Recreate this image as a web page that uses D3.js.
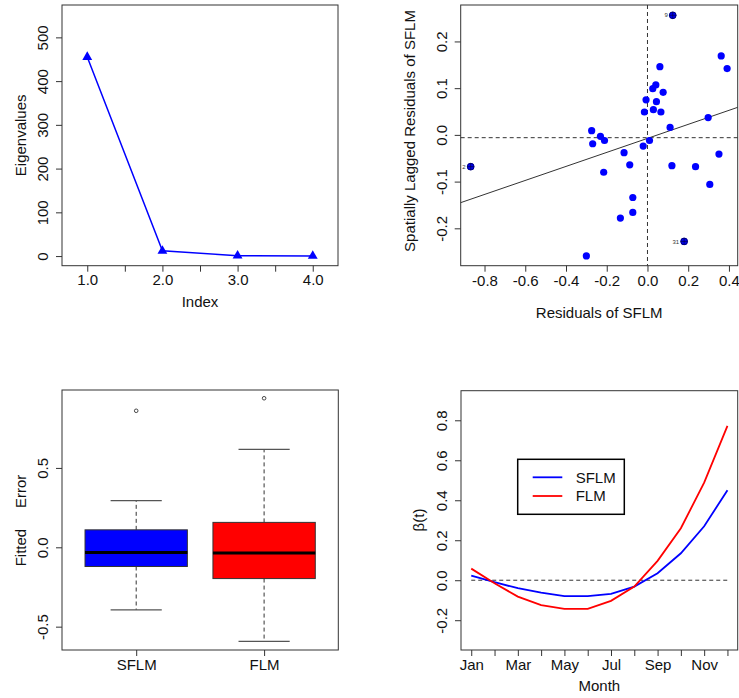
<!DOCTYPE html>
<html>
<head>
<meta charset="utf-8">
<script src="https://cdn.jsdelivr.net/npm/d3@7"></script>
<style>
body { margin: 0; background: #fff; }
svg { font-family: "Liberation Sans", Arial, sans-serif; }
</style>
</head>
<body>
<svg id="chart" width="739" height="698"></svg>
<script>
// top left: eigenvalues
const eigIndex = [1, 2, 3, 4];
const eigValues = [455, 12, 1, 0.3];
const eigXTicks = [1, 1.5, 2, 2.5, 3, 3.5, 4];
const eigYTicks = [0, 100, 200, 300, 400, 500];

// top right: moran scatter of residuals
const resX = [0.124, 0.362, 0.391, 0.061, 0.041, 0.026, 0.077, -0.007, 0.044, 0.029, 0.066,
	-0.015, 0.298, 0.111, -0.274, -0.231, -0.269, -0.211, 0.010, -0.021, -0.115, 0.351,
	-0.087, 0.120, 0.236, -0.868, -0.215, 0.306, -0.072, -0.072, -0.133, 0.180, -0.300];
const lagY = [0.256, 0.169, 0.142, 0.146, 0.107, 0.099, 0.091, 0.075, 0.071, 0.054, 0.049,
	0.049, 0.037, 0.016, 0.009, -0.003, -0.019, -0.012, -0.012, -0.024, -0.038, -0.041,
	-0.064, -0.066, -0.068, -0.068, -0.080, -0.106, -0.134, -0.166, -0.178, -0.228, -0.259];
const influenceIdx = [0, 25, 31];
const influenceLabels = ["9", "2", "31"];
const fitIntercept = -0.0075;
const fitSlope = 0.15;
const lagMean = -0.006;
const resXTicks = [-0.8, -0.6, -0.4, -0.2, 0.0, 0.2, 0.4];
const lagYTicks = [-0.2, -0.1, 0.0, 0.1, 0.2];

// bottom left: boxplots of fitted error
const boxGroups = ["SFLM", "FLM"];
const boxLower = [-0.394, -0.593];
const boxQ1 = [-0.121, -0.197];
const boxMedian = [-0.032, -0.036];
const boxQ3 = [0.110, 0.157];
const boxUpper = [0.294, 0.617];
const boxOutliers = [[0.860], [0.939]];
const boxColors = ["#0000ff", "#ff0000"];
const errYTicks = [-0.5, 0.0, 0.5];

// bottom right: beta(t)
const months = ["Jan", "Feb", "Mar", "Apr", "May", "Jun", "Jul", "Aug", "Sep", "Oct", "Nov", "Dec"];
const betaSFLM = [0.023, -0.010, -0.040, -0.062, -0.080, -0.080, -0.068, -0.032, 0.035, 0.135, 0.270, 0.450];
const betaFLM = [0.058, -0.015, -0.082, -0.125, -0.143, -0.143, -0.103, -0.032, 0.097, 0.260, 0.488, 0.772];
const betaYTicks = [-0.2, 0.0, 0.2, 0.4, 0.6, 0.8];

const svg = d3.select("#chart");
const FS = 15;

// R prints a plain hyphen for negatives
const fmt1 = d => d.toFixed(1);

// R-style axes drawn with d3 axes, tick labels parallel to the axis
function bottomAxis(g, x, y0, ticks, fmt, labelOffset) {
	const ax = g.append("g").attr("transform", `translate(0,${y0})`)
		.call(d3.axisBottom(x).tickValues(ticks).tickFormat(fmt).tickSize(6).tickSizeOuter(0));
	ax.select(".domain").remove();
	ax.selectAll(".tick line").attr("stroke", "#333");
	ax.selectAll(".tick text").attr("y", labelOffset).attr("dy", "0.35em")
		.attr("font-size", FS).attr("fill", "#111").attr("font-family", null);
	return ax;
}

function leftAxis(g, y, x0, ticks, fmt, labelOffset) {
	const ax = g.append("g").attr("transform", `translate(${x0},0)`)
		.call(d3.axisLeft(y).tickValues(ticks).tickFormat(fmt).tickSize(6).tickSizeOuter(0));
	ax.select(".domain").remove();
	ax.selectAll(".tick line").attr("stroke", "#333");
	ax.selectAll(".tick text").attr("transform", "rotate(-90)")
		.attr("x", 0).attr("y", -labelOffset).attr("dy", "0.35em")
		.attr("text-anchor", "middle")
		.attr("font-size", FS).attr("fill", "#111").attr("font-family", null);
	return ax;
}

function frame(g, l, t, r, b) {
	g.append("rect").attr("x", l).attr("y", t).attr("width", r - l).attr("height", b - t)
		.attr("fill", "none").attr("stroke", "#333").attr("stroke-width", 1);
}

function xLabel(g, txt, cx, cy) {
	g.append("text").attr("x", cx).attr("y", cy).attr("dy", "0.35em")
		.attr("text-anchor", "middle").attr("font-size", FS).attr("fill", "#111").text(txt);
}

function yLabel(g, txt, cx, cy) {
	g.append("text").attr("transform", `translate(${cx},${cy}) rotate(-90)`)
		.attr("dy", "0.35em").attr("text-anchor", "middle")
		.style("white-space", "pre")
		.attr("font-size", FS).attr("fill", "#111").text(txt);
}

// ---- panel 1: eigenvalues
{
	const L = 62, R = 338, T = 5, B = 265.7;
	const g = svg.append("g");
	const x = d3.scaleLinear().domain([0.664, 4.336]).range([L, R]);
	const y = d3.scaleLinear().domain([-22, 574]).range([B, T]);

	const line = d3.line().x((d, i) => x(eigIndex[i])).y(d => y(d));
	g.append("path").datum(eigValues).attr("d", line)
		.attr("fill", "none").attr("stroke", "#0000ff").attr("stroke-width", 1.5);

	g.selectAll(".tri").data(eigValues).enter().append("path")
		.attr("transform", (d, i) => `translate(${x(eigIndex[i])},${y(d)})`)
		.attr("d", d3.symbol(d3.symbolTriangle, 42))
		.attr("fill", "#0000ff");

	frame(g, L, T, R, B);
	bottomAxis(g, x, B, eigXTicks, d => (d % 1 === 0 ? d.toFixed(1) : ""), 14.5);
	leftAxis(g, y, L, eigYTicks, d3.format("d"), 19);
	xLabel(g, "Index", (L + R) / 2, 301.7);
	yLabel(g, "Eigenvalues", 20.7, (T + B) / 2);
}

// ---- panel 2: moran scatter
{
	const L = 460.7, R = 737.7, T = 5, B = 265.7;
	const g = svg.append("g");
	const x = d3.scaleLinear().domain([-0.917, 0.443]).range([L, R]);
	const y = d3.scaleLinear().domain([-0.28, 0.278]).range([B, T]);

	const xd = x.domain();
	g.append("line")
		.attr("x1", x(xd[0])).attr("y1", y(fitIntercept + fitSlope * xd[0]))
		.attr("x2", x(xd[1])).attr("y2", y(fitIntercept + fitSlope * xd[1]))
		.attr("stroke", "#333").attr("stroke-width", 1);
	g.append("line").attr("x1", L).attr("x2", R).attr("y1", y(lagMean)).attr("y2", y(lagMean))
		.attr("stroke", "#333").attr("stroke-dasharray", "4,3");
	g.append("line").attr("x1", x(0)).attr("x2", x(0)).attr("y1", T).attr("y2", B)
		.attr("stroke", "#333").attr("stroke-dasharray", "4,3");

	g.selectAll(".pt").data(resX).enter().append("circle")
		.attr("cx", d => x(d)).attr("cy", (d, i) => y(lagY[i]))
		.attr("r", 3.6).attr("fill", "#0000ff");

	influenceIdx.forEach((k, j) => {
		const px = x(resX[k]), py = y(lagY[k]);
		g.append("circle").attr("cx", px).attr("cy", py).attr("r", 3.4)
			.attr("fill", "#0000ee").attr("stroke", "#000033").attr("stroke-width", 0.6);
		g.append("path").attr("d", `M${px - 3.4},${py}H${px + 3.4}M${px},${py - 3.4}V${py + 3.4}`)
			.attr("stroke", "#000033").attr("stroke-width", 0.6);
		g.append("text").attr("x", px - 5).attr("y", py).attr("dy", "0.35em")
			.attr("text-anchor", "end").attr("font-size", 6).attr("fill", "#333")
			.text(influenceLabels[j]);
	});

	frame(g, L, T, R, B);
	bottomAxis(g, x, B, resXTicks, fmt1, 15);
	leftAxis(g, y, L, lagYTicks, fmt1, 19);
	xLabel(g, "Residuals of SFLM", (L + R) / 2, 312.7);
	yLabel(g, "Spatially Lagged Residuals of SFLM", 410, 131);
}

// ---- panel 3: boxplots
{
	const L = 62, R = 338.3, T = 390, B = 650;
	const g = svg.append("g");
	const x = d3.scaleLinear().domain([0.42, 2.58]).range([L, R]);
	const y = d3.scaleLinear().domain([-0.647, 0.991]).range([B, T]);
	const half = x(1.4) - x(1);

	boxGroups.forEach((name, i) => {
		const cx = x(i + 1);
		g.append("line").attr("x1", cx).attr("x2", cx).attr("y1", y(boxQ3[i])).attr("y2", y(boxUpper[i]))
			.attr("stroke", "#333").attr("stroke-dasharray", "4,3");
		g.append("line").attr("x1", cx).attr("x2", cx).attr("y1", y(boxQ1[i])).attr("y2", y(boxLower[i]))
			.attr("stroke", "#333").attr("stroke-dasharray", "4,3");
		[boxUpper[i], boxLower[i]].forEach(v => {
			g.append("line").attr("x1", cx - half / 2).attr("x2", cx + half / 2)
				.attr("y1", y(v)).attr("y2", y(v)).attr("stroke", "#555").attr("stroke-width", 1.2);
		});
		g.append("rect").attr("x", cx - half).attr("width", 2 * half)
			.attr("y", y(boxQ3[i])).attr("height", y(boxQ1[i]) - y(boxQ3[i]))
			.attr("fill", boxColors[i]).attr("stroke", "#333").attr("stroke-width", 1);
		g.append("line").attr("x1", cx - half).attr("x2", cx + half)
			.attr("y1", y(boxMedian[i])).attr("y2", y(boxMedian[i]))
			.attr("stroke", "#000").attr("stroke-width", 3);
		boxOutliers[i].forEach(v => {
			g.append("circle").attr("cx", cx).attr("cy", y(v)).attr("r", 1.8)
				.attr("fill", "none").attr("stroke", "#333").attr("stroke-width", 0.9);
		});
	});

	frame(g, L, T, R, B);
	bottomAxis(g, x, B, [1, 2], d => boxGroups[d - 1], 15);
	leftAxis(g, y, L, errYTicks, fmt1, 19.5);
	yLabel(g, "Fitted     Error", 20.7, 520.5);
}

// ---- panel 4: beta(t)
{
	const L = 461, R = 737.7, T = 390.7, B = 650;
	const g = svg.append("g");
	const x = d3.scaleLinear().domain([0.56, 12.44]).range([L, R]);
	const y = d3.scaleLinear().domain([-0.349, 0.948]).range([B, T]);
	const mi = months.map((m, i) => i + 1);

	g.append("line").attr("x1", x(1)).attr("x2", x(12)).attr("y1", y(0)).attr("y2", y(0))
		.attr("stroke", "#333").attr("stroke-dasharray", "4,3");

	const line = d3.line().x((d, i) => x(mi[i])).y(d => y(d));
	g.append("path").datum(betaSFLM).attr("d", line)
		.attr("fill", "none").attr("stroke", "#0000ff").attr("stroke-width", 1.8);
	g.append("path").datum(betaFLM).attr("d", line)
		.attr("fill", "none").attr("stroke", "#ff0000").attr("stroke-width", 1.8);

	frame(g, L, T, R, B);
	bottomAxis(g, x, B, mi, d => (d % 2 === 1 ? months[d - 1] : ""), 15);
	leftAxis(g, y, L, betaYTicks, fmt1, 19.5);
	xLabel(g, "Month", (L + R) / 2, 686);
	yLabel(g, "β(t)", 418.3, 520);

	// legend
	const lg = g.append("g");
	lg.append("rect").attr("x", 517.7).attr("y", 459.3).attr("width", 106.6).attr("height", 55)
		.attr("fill", "#fff").attr("stroke", "#000").attr("stroke-width", 1.5);
	const entries = [["SFLM", "#0000ff"], ["FLM", "#ff0000"]];
	entries.forEach((e, i) => {
		const ly = 477.3 + i * 18.7;
		lg.append("line").attr("x1", 532.7).attr("x2", 562.3).attr("y1", ly).attr("y2", ly)
			.attr("stroke", e[1]).attr("stroke-width", 1.8);
		lg.append("text").attr("x", 575.7).attr("y", ly).attr("dy", "0.35em")
			.attr("font-size", FS).attr("fill", "#111").text(e[0]);
	});
}
</script>
</body>
</html>
